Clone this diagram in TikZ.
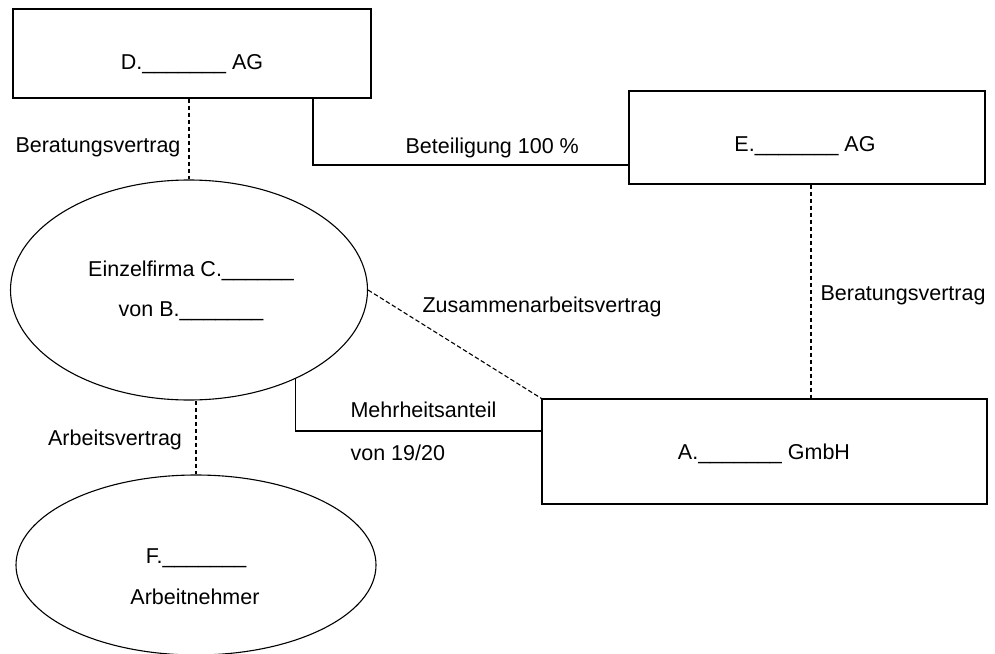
\documentclass[tikz,border=0pt]{standalone}
\usepackage{fontspec}
\setmainfont{Liberation Sans}
\usetikzlibrary{positioning}
\usetikzlibrary{calc}
\usetikzlibrary{shapes.geometric}

\begin{document}
\begin{tikzpicture}[x=1pt,y=-1pt,line width=1.1pt,
		box/.style={draw,rectangle,inner sep=0pt},
		oval/.style={draw,ellipse,inner sep=0pt},
		txt/.style={inner sep=0pt,anchor=base,font=\fontsize{21.5}{25}\selectfont},
		contract/.style={dash pattern=on 4.5pt off 2.5pt}]
		\useasboundingbox (0,0) rectangle (995,653);
		\node (D) [box,minimum width=358pt,minimum height=89pt] at (192,53.5) {};
		\node (E) [box,minimum width=356pt,minimum height=93pt] at (807,137.5) {};
		\node (A) [box,minimum width=445pt,minimum height=105pt] at (764.5,451.5) {};
		\node (C) [oval,minimum width=357pt,minimum height=220pt] at (189,290) {};
		\node (F) [oval,minimum width=360pt,minimum height=180pt] at (196,565) {};
		\node (Dtxt) [txt] at (192,69.3) {D.\_\_\_\_\_\_\_ AG};
		\node (Etxt) [txt] at (805,151) {E.\_\_\_\_\_\_\_ AG};
		\node (Atxt) [txt] at (764,459.3) {A.\_\_\_\_\_\_\_ GmbH};
		\node (Cfirm) [txt] at (191,276) {Einzelfirma C.\_\_\_\_\_\_};
		\node (Cowner) [txt] at (191,316.7) {von B.\_\_\_\_\_\_\_};
		\node (Fname) [txt] at (196,563.3) {F.\_\_\_\_\_\_\_};
		\node (Frole) [txt] at (195,604.3) {Arbeitnehmer};
		\coordinate (betkink) at (313,165);
		\coordinate (mhkink) at (294,431);
		\draw [contract] (D.south -| C.north) -- (C.north);
		\draw (D.south -| betkink) |- (E.west |- betkink);
		\draw [contract] ([xshift=4pt]E.south) -- ([xshift=4pt]E.south |- A.north);
		\draw [contract] (C.east) -- (A.north west);
		\draw (C.-40) |- (A.west |- mhkink);
		\draw [contract] (F.north |- C.south) -- (F.north);
		\node (bvD) [txt,anchor=base east] at (181,152) {Beratungsvertrag};
		\node (bet) [txt,anchor=base west] at (405,153.3) {Beteiligung 100 \%};
		\node (bvE) [txt,anchor=base west] at (820,300) {Beratungsvertrag};
		\node (zus) [txt,anchor=base west] at (422,312.3) {Zusammenarbeitsvertrag};
		\node (mh) [txt,anchor=base west] at (350,417.7) {Mehrheitsanteil};
		\node (mhpart) [txt,anchor=base west] at (350,460.7) {von 19/20};
		\node (av) [txt,anchor=base east] at (182.5,445) {Arbeitsvertrag};
	\end{tikzpicture}
\end{document}
